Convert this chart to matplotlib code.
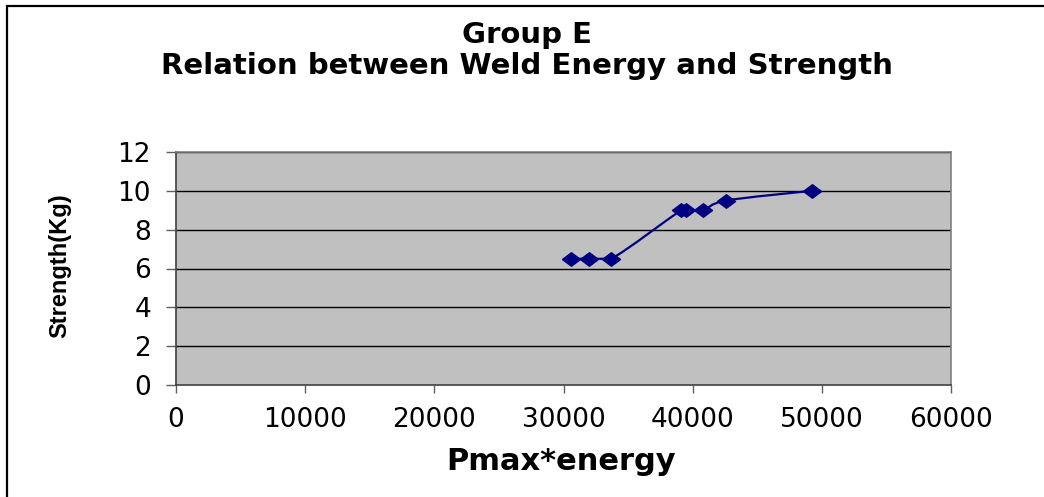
import matplotlib
matplotlib.use("Agg")
import matplotlib.pyplot as plt
from matplotlib.path import Path
from matplotlib.patches import PathPatch, Rectangle

# Pmax*energy against weld strength, group E
energy = [30600, 32000, 33700, 39100, 39500, 40800, 42600, 49200]
strength = [6.5, 6.5, 6.5, 9.0, 9.0, 9.0, 9.5, 10.0]

x_ticks = [0, 10000, 20000, 30000, 40000, 50000, 60000]
y_ticks = [0, 2, 4, 6, 8, 10, 12]

navy = "#000080"


def smooth_path(xs, ys):
    # cubic bezier through every point, tangents from the neighbours,
    # control heights kept inside each segment so flat runs stay flat
    pts = list(zip(xs, ys))
    verts = [pts[0]]
    codes = [Path.MOVETO]
    n = len(pts)
    for i in range(n - 1):
        p0 = pts[i - 1] if i > 0 else pts[i]
        p1 = pts[i]
        p2 = pts[i + 1]
        p3 = pts[i + 2] if i + 2 < n else pts[i + 1]
        lo, hi = min(p1[1], p2[1]), max(p1[1], p2[1])
        c1 = (p1[0] + (p2[0] - p0[0]) / 6,
              min(max(p1[1] + (p2[1] - p0[1]) / 6, lo), hi))
        c2 = (p2[0] - (p3[0] - p1[0]) / 6,
              min(max(p2[1] - (p3[1] - p1[1]) / 6, lo), hi))
        verts += [c1, c2, p2]
        codes += [Path.CURVE4] * 3
    return Path(verts, codes)


fig = plt.figure(figsize=(10.44, 4.97), dpi=100)
fig.patch.set_facecolor("white")

# chart border, cut off at the right and bottom
fig.patches.append(Rectangle((7 / 1044, -0.1), 1.2, 1.1 - 6 / 497,
                             transform=fig.transFigure, fill=False,
                             edgecolor="black", linewidth=1.6))

ax = fig.add_axes([176 / 1044, 1 - 385 / 497, 775 / 1044, 233 / 497])
ax.set_facecolor("#C0C0C0")
ax.set_xlim(0, 60000)
ax.set_ylim(0, 12)
ax.set_xticks(x_ticks)
ax.set_yticks(y_ticks)
ax.set_xticklabels([str(v) for v in x_ticks])
ax.set_yticklabels([str(v) for v in y_ticks])

for v in y_ticks[1:]:
    ax.axhline(v, color="black", linewidth=1.0, zorder=1)

for side in ["left", "bottom", "top", "right"]:
    ax.spines[side].set_color("#808080")
    ax.spines[side].set_linewidth(1.2)
ax.spines["left"].set_color("#404040")
ax.spines["bottom"].set_color("#404040")

ax.tick_params(direction="out", width=1, color="#606060", labelsize=19)
ax.tick_params(axis="x", length=6, pad=10)
ax.tick_params(axis="y", length=7, pad=11)
for lab in ax.get_xticklabels() + ax.get_yticklabels():
    lab.set_family("DejaVu Sans")

ax.add_patch(PathPatch(smooth_path(energy, strength), facecolor="none",
                       edgecolor=navy, linewidth=1.6, zorder=3))
diamond = [(-1, 0), (0, 0.75), (1, 0), (0, -0.75), (-1, 0)]
ax.plot(energy, strength, linestyle="none", marker=diamond, markersize=13,
        color=navy, zorder=4)

fig.text(527 / 1044, 1 - 35 / 497, "Group E", ha="center", va="center",
         fontsize=21, fontweight="bold", family="DejaVu Sans")
fig.text(527 / 1044, 1 - 66 / 497, "Relation between Weld Energy and Strength",
         ha="center", va="center", fontsize=21, fontweight="bold",
         family="DejaVu Sans")

fig.text(561 / 1044, 1 - 462 / 497, "Pmax*energy", ha="center", va="center",
         fontsize=22, fontweight="bold", family="DejaVu Sans")
fig.text(60 / 1044, 1 - 266 / 497, "Strength(Kg)", ha="center", va="center",
         rotation=90, fontsize=17, fontweight="bold",
         family="Liberation Sans")

fig.savefig("out.png", dpi=100)
